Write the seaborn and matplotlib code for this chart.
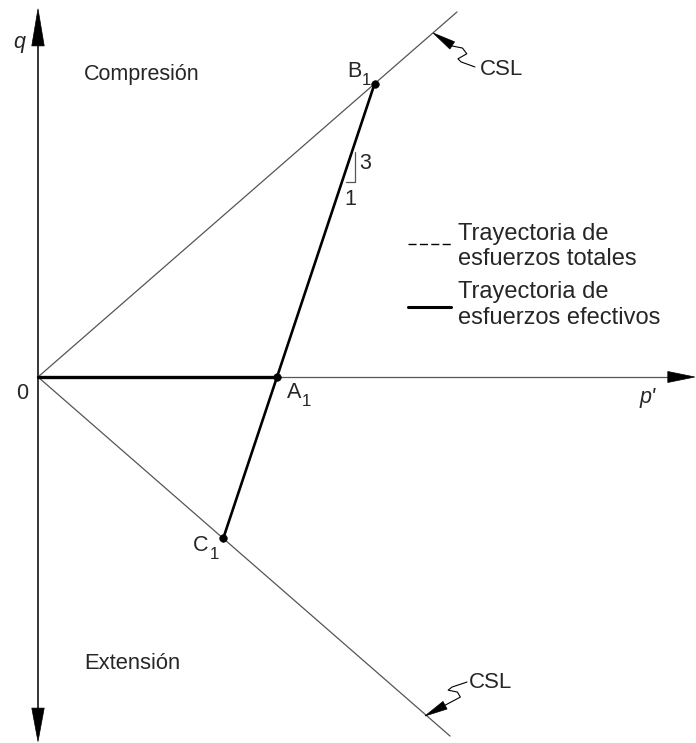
import matplotlib
matplotlib.use("Agg")
import matplotlib.pyplot as plt
from matplotlib.patches import Polygon
import numpy as np
import pandas as pd
import seaborn as sns

# --- state values (p' normalised by p'_A1) ---
point_names = ["A", "B", "C"]
point_p = [1.0, 1.408, 0.775]
point_q = [0.0, 1.226, -0.675]

# critical state lines (compression / extension)
csl_comp_p = [0.0, 1.753]
csl_comp_q = [0.0, 1.527]
csl_ext_p = [0.0, 1.724]
csl_ext_q = [0.0, -1.502]

# effective stress path: isotropic loading 0 -> A1, then undrained shear to B1 / C1
iso_p = [0.0, 1.0]
iso_q = [0.0, 0.0]
shear_p = [0.775, 1.0, 1.408]
shear_q = [-0.675, 0.0, 1.226]

legend_labels = ["Trayectoria de\nesfuerzos totales", "Trayectoria de\nesfuerzos efectivos"]

sns.set_theme(style="white")
plt.rcParams["font.family"] = ["Liberation Sans", "DejaVu Sans"]

fig = plt.figure(figsize=(6.96, 7.43), dpi=100)
ax = fig.add_axes([0, 0, 1, 1])
ax.set_axis_off()

FS = 15.5
FS_LEG = 17
GREY = "#555555"

# axes of the p'-q plane
ax.plot([0, 0], [-1.40, 1.40], color="black", lw=1.1, zorder=2)
ax.plot([0, 2.65], [0, 0], color=GREY, lw=0.9, zorder=1)


def head(tip, base_mid, half_w, color="black"):
    tip = np.asarray(tip, float)
    base_mid = np.asarray(base_mid, float)
    d = tip - base_mid
    n = np.array([-d[1], d[0]]) / np.hypot(*d) * half_w
    ax.add_patch(Polygon([tip, base_mid + n, base_mid - n], closed=True,
                         facecolor=color, edgecolor=color, lw=0.5, zorder=5))


def sublabel(x, y, main, sub):
    """Letter with a numeric subscript, anchored at its left edge."""
    t = ax.annotate(main, (x, y), fontsize=FS, ha="left", va="center")
    ax.annotate(sub, xy=(1.0, 0.5), xycoords=t, xytext=(0.5, -6.5),
                textcoords="offset points", fontsize=FS * 0.78, ha="left", va="center")


head((0, 1.540), (0, 1.385), 0.026)
head((0, -1.525), (0, -1.385), 0.026)
head((2.748, 0), (2.635, 0), 0.023)

# critical state lines
df_cc = pd.DataFrame({"p": csl_comp_p, "q": csl_comp_q})
df_ce = pd.DataFrame({"p": csl_ext_p, "q": csl_ext_q})
sns.lineplot(data=df_cc, x="p", y="q", sort=False, estimator=None, color=GREY, lw=0.9, ax=ax)
sns.lineplot(data=df_ce, x="p", y="q", sort=False, estimator=None, color=GREY, lw=0.9, ax=ax)

# stress paths
df_iso = pd.DataFrame({"p": iso_p, "q": iso_q})
df_sh = pd.DataFrame({"p": shear_p, "q": shear_q})
sns.lineplot(data=df_iso, x="p", y="q", sort=False, estimator=None, color="black", lw=2.4, ax=ax)
sns.lineplot(data=df_sh, x="p", y="q", sort=False, estimator=None, color="black", lw=1.9, ax=ax)

df_pts = pd.DataFrame({"name": point_names, "p": point_p, "q": point_q})
sns.scatterplot(data=df_pts, x="p", y="q", color="black", s=30, edgecolor="black", zorder=6, ax=ax)
ax.set_xlim(-0.159, 2.753)
ax.set_ylim(-1.531, 1.577)

# slope triangle 3:1
ax.plot([1.29, 1.325, 1.325], [0.815, 0.815, 0.94], color=GREY, lw=0.9)
ax.text(1.345, 0.895, "3", fontsize=FS, ha="left", va="center")
ax.text(1.305, 0.741, "1", fontsize=FS, ha="center", va="center")

# point labels
sublabel(1.293, 1.280, "B", "1")
sublabel(1.042, -0.065, "A", "1")
sublabel(0.649, -0.703, "C", "1")
ax.text(-0.067, -0.067, "0", fontsize=FS, ha="center", va="center")

# axis labels
ax.text(-0.079, 1.40, "q", fontsize=FS, style="italic", ha="center", va="center")
ax.text(2.552, -0.084, "p'", fontsize=FS, style="italic", ha="center", va="center")

# regions
ax.text(0.192, 1.264, "Compresión", fontsize=FS, ha="left", va="center")
ax.text(0.192, -1.197, "Extensión", fontsize=15.8, ha="left", va="center")

# CSL callouts
ax.text(1.849, 1.285, "CSL", fontsize=16, ha="left", va="center")
ax.text(1.803, -1.276, "CSL", fontsize=16, ha="left", va="center")

up_leader_p = [1.731, 1.776, 1.794, 1.757, 1.770, 1.828]
up_leader_q = [1.385, 1.376, 1.352, 1.331, 1.318, 1.297]
ax.plot(up_leader_p, up_leader_q, color="black", lw=0.8)
head((1.653, 1.439), (1.733, 1.387), 0.018)

lo_leader_p = [1.703, 1.767, 1.755, 1.716, 1.732, 1.795]
lo_leader_q = [-1.373, -1.339, -1.318, -1.310, -1.297, -1.276]
ax.plot(lo_leader_p, lo_leader_q, color="black", lw=0.8)
head((1.619, -1.418), (1.703, -1.373), 0.018)

# legend
ax.text(1.757, 0.645, legend_labels[0], fontsize=FS_LEG, ha="left", va="top",
        linespacing=1.2)
ax.plot([1.548, 1.728], [0.555, 0.555], color="black", lw=1.0, ls=(0, (5.8, 2.4)))
ax.text(1.757, 0.400, legend_labels[1], fontsize=FS_LEG, ha="left", va="top",
        linespacing=1.2)
ax.plot([1.548, 1.728], [0.293, 0.293], color="black", lw=2.2)

fig.savefig("out.png", dpi=100)
